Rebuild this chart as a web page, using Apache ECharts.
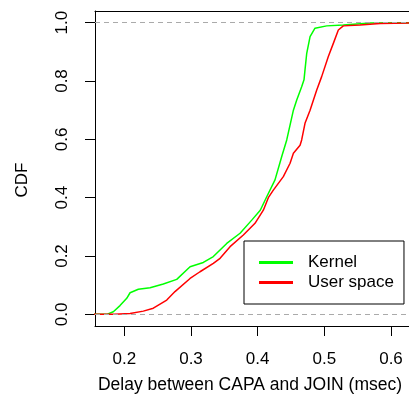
<!DOCTYPE html>
<html>
<head>
<meta charset="utf-8">
<script src="https://cdn.jsdelivr.net/npm/echarts@6/dist/echarts.min.js"></script>
<style>
  html, body { margin: 0; padding: 0; background: #fff; }
  #chart { width: 409px; height: 411px; }
</style>
</head>
<body>
<div id="chart"></div>
<script>
// ---- data ----
const kernelX = [0.15, 0.1736, 0.1835, 0.1935, 0.2036, 0.2086, 0.221, 0.2386, 0.2585, 0.2786, 0.2986, 0.3185, 0.3335, 0.3536, 0.3736, 0.3911, 0.4039, 0.4136, 0.426, 0.436, 0.4436, 0.4536, 0.4586, 0.466, 0.4695, 0.471, 0.4736, 0.4786, 0.486, 0.5036, 0.5285, 0.5686, 0.65];
const kernelY = [0, 0, 0.009, 0.03, 0.055, 0.074, 0.086, 0.091, 0.104, 0.12, 0.163, 0.178, 0.198, 0.243, 0.278, 0.323, 0.357, 0.403, 0.461, 0.540, 0.598, 0.70, 0.735, 0.78, 0.804, 0.838, 0.895, 0.952, 0.981, 0.989, 0.992, 0.999, 1];
const userX = [0.15, 0.185, 0.2086, 0.2285, 0.2435, 0.2636, 0.276, 0.2986, 0.3135, 0.3335, 0.3436, 0.3586, 0.3785, 0.396, 0.4085, 0.416, 0.4235, 0.4385, 0.4486, 0.4536, 0.4636, 0.466, 0.471, 0.4786, 0.4886, 0.496, 0.506, 0.5135, 0.521, 0.5285, 0.5535, 0.5836, 0.65];
const userY = [0, 0, 0.003, 0.011, 0.021, 0.049, 0.078, 0.123, 0.146, 0.175, 0.192, 0.232, 0.272, 0.312, 0.357, 0.40, 0.426, 0.472, 0.518, 0.552, 0.58, 0.598, 0.655, 0.70, 0.769, 0.815, 0.884, 0.929, 0.975, 0.989, 0.992, 0.997, 1];
const xTicks = [0.2, 0.3, 0.4, 0.5, 0.6];
const yTicks = [0, 0.2, 0.4, 0.6, 0.8, 1.0];
const refLines = [0, 1];
const seriesNames = ['Kernel', 'User space'];
const xTitle = 'Delay between CAPA and JOIN (msec)';
const yTitle = 'CDF';

const FONT = '"Liberation Sans", Arial, Helvetica, sans-serif';
const zip = (xs, ys) => xs.map((x, i) => [x, ys[i]]);
const X_MIN = 0.156, X_MAX = 0.6315;

const chart = echarts.init(document.getElementById('chart'), null, { renderer: 'canvas' });
chart.setOption({
  animation: false,
  backgroundColor: '#fff',
  grid: {
    left: 95, top: 11, width: 317, height: 315,
    outerBoundsMode: 'none', containLabel: false, show: false
  },
  xAxis: [
    {
      type: 'value', min: X_MIN, max: X_MAX, position: 'bottom',
      axisLine: { show: true, onZero: false, lineStyle: { color: '#000', width: 1 } },
      splitLine: { show: false },
      axisTick: { show: true, length: 10, customValues: xTicks, lineStyle: { color: '#000' } },
      axisLabel: {
        customValues: xTicks, margin: 25, color: '#000', fontSize: 17, fontFamily: FONT,
        formatter: v => v.toFixed(1)
      }
    },
    {
      type: 'value', min: X_MIN, max: X_MAX, position: 'top',
      axisLine: { show: true, onZero: false, lineStyle: { color: '#000', width: 1 } },
      splitLine: { show: false }, axisTick: { show: false }, axisLabel: { show: false }
    }
  ],
  yAxis: {
    type: 'value', min: -0.04, max: 1.04,
    axisLine: { show: true, onZero: false, lineStyle: { color: '#000', width: 1 } },
    splitLine: { show: false },
    axisTick: { show: true, length: 10, customValues: yTicks, lineStyle: { color: '#000' } },
    axisLabel: {
      customValues: yTicks, margin: 24, rotate: 90, color: '#000', fontSize: 17, fontFamily: FONT,
      formatter: v => v.toFixed(1)
    }
  },
  legend: {
    orient: 'vertical',
    left: 244, top: 241,
    padding: [13, 10, 13, 15],
    itemGap: 3,
    itemWidth: 34, itemHeight: 3,
    icon: 'rect',
    backgroundColor: '#fff',
    borderColor: '#000', borderWidth: 1,
    textStyle: { fontSize: 17, color: '#000', fontFamily: FONT, padding: [0, 0, 0, 10] },
    data: seriesNames
  },
  graphic: [
    { type: 'text', x: 250, y: 376,
      style: { text: xTitle, font: '17.5px ' + FONT, fill: '#000', align: 'center', verticalAlign: 'top' } },
    { type: 'text', x: 22, y: 180, rotation: Math.PI / 2,
      style: { text: yTitle, font: '17px ' + FONT, fill: '#000', align: 'center', verticalAlign: 'middle' } }
  ],
  series: [
    {
      type: 'line', name: '_ref', data: [], silent: true, z: 1,
      markLine: {
        silent: true, symbol: 'none', label: { show: false },
        lineStyle: { color: '#aaaaaa', type: [5, 4], width: 1 },
        data: refLines.map(v => ({ yAxis: v }))
      }
    },
    {
      type: 'line', name: seriesNames[0], data: zip(kernelX, kernelY),
      showSymbol: false, symbol: 'none', z: 3,
      lineStyle: { color: '#00ff00', width: 1.5 }, itemStyle: { color: '#00ff00' }
    },
    {
      type: 'line', name: seriesNames[1], data: zip(userX, userY),
      showSymbol: false, symbol: 'none', z: 4,
      lineStyle: { color: '#ff0000', width: 1.5 }, itemStyle: { color: '#ff0000' }
    }
  ]
});
</script>
</body>
</html>
